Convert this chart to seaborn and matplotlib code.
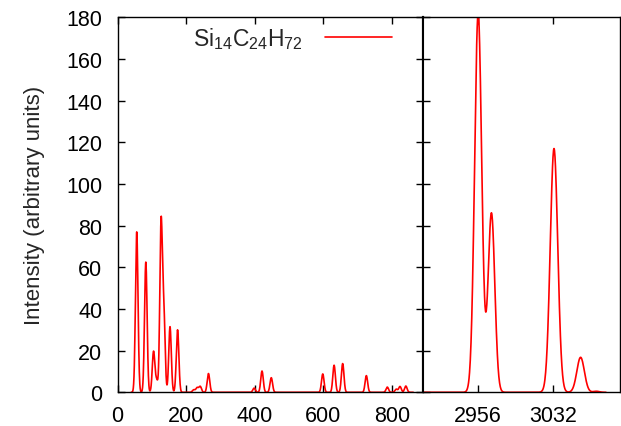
import numpy as np
import pandas as pd
import matplotlib
matplotlib.use("Agg")
import matplotlib.pyplot as plt
import seaborn as sns

# peak positions (cm^-1), heights and gaussian widths
low_centers = [56, 82.5, 105, 114, 127, 135, 153, 175, 222, 232, 241, 265,
               398, 421, 448, 598, 631, 656, 725, 786, 812, 823, 840]
low_heights = [77, 62.5, 19.5, 5.5, 80.5, 37, 31.5, 30, 1.2, 2.2, 2.8, 9.0,
               2.0, 10.2, 7.0, 8.8, 13.0, 13.8, 8.0, 2.5, 1.5, 2.8, 3.0]
low_widths = [3.7] * len(low_centers)

high_centers = [2956, 2969.5, 3033, 3060, 3076]
high_heights = [182, 86, 117, 16.8, 0.5]
high_widths = [3.6, 3.4, 3.8, 3.8, 3.0]

label = r"Si$_{14}$C$_{24}$H$_{72}$"


def spectrum(x, centers, heights, widths):
    y = np.zeros_like(x)
    for c, h, w in zip(centers, heights, widths):
        y += h * np.exp(-0.5 * ((x - c) / w) ** 2)
    return y


x_low = np.arange(40, 862, 0.5)
x_high = np.arange(2900, 3086, 0.25)
df_low = pd.DataFrame({"freq": x_low, "intensity": spectrum(x_low, low_centers, low_heights, low_widths)})
df_high = pd.DataFrame({"freq": x_high, "intensity": spectrum(x_high, high_centers, high_heights, high_widths)})

sns.set_theme(style="ticks")
plt.rcParams["font.family"] = ["Liberation Sans", "DejaVu Sans"]
plt.rcParams["mathtext.fontset"] = "custom"
plt.rcParams["mathtext.rm"] = "Liberation Sans"
plt.rcParams["mathtext.it"] = "Liberation Sans"

fig = plt.figure(figsize=(6.21, 4.27), dpi=100)
bottom = 33.7 / 427
height = 375 / 427
ax1 = fig.add_axes([117.5 / 621, bottom, 305.5 / 621, height])
ax2 = fig.add_axes([423 / 621, bottom, 197 / 621, height])

sns.lineplot(x="freq", y="intensity", data=df_low, ax=ax1, color="#ff0000", linewidth=1.2, label=label)
sns.lineplot(x="freq", y="intensity", data=df_high, ax=ax2, color="#ff0000", linewidth=1.2)

ax1.set_xlim(0, 890)
ax2.set_xlim(2900, 3100)
for ax in (ax1, ax2):
    ax.set_ylim(0, 180)
    ax.set_xlabel("")
    ax.set_ylabel("")
    for s in ax.spines.values():
        s.set_linewidth(1.0)
        s.set_color("black")
        s.set_visible(True)
    ax.tick_params(direction="in", length=5, width=1, labelsize=15.5, colors="black")
    ax.tick_params(axis="x", pad=9)
    ax.tick_params(axis="y", pad=11)

ax1.set_xticks([0, 200, 400, 600, 800])
ax1.set_yticks(np.arange(0, 181, 20))
ax1.tick_params(top=True, right=True)
ax1.set_ylabel("Intensity (arbitrary units)", fontsize=16, labelpad=15)

ax2.set_xticks([2956, 3032])
ax2.set_yticks(np.arange(0, 181, 20))
ax2.tick_params(top=True, left=True, right=False, labelleft=False)
ax2.spines["left"].set_linewidth(1.5)
ax1.spines["right"].set_linewidth(1.5)

leg = ax1.legend(loc="upper right", bbox_to_anchor=(0.965, 1.035), frameon=False,
                 markerfirst=False, handlelength=2.9, handletextpad=1.0, fontsize=16.5)

fig.savefig("out.png", dpi=100)
